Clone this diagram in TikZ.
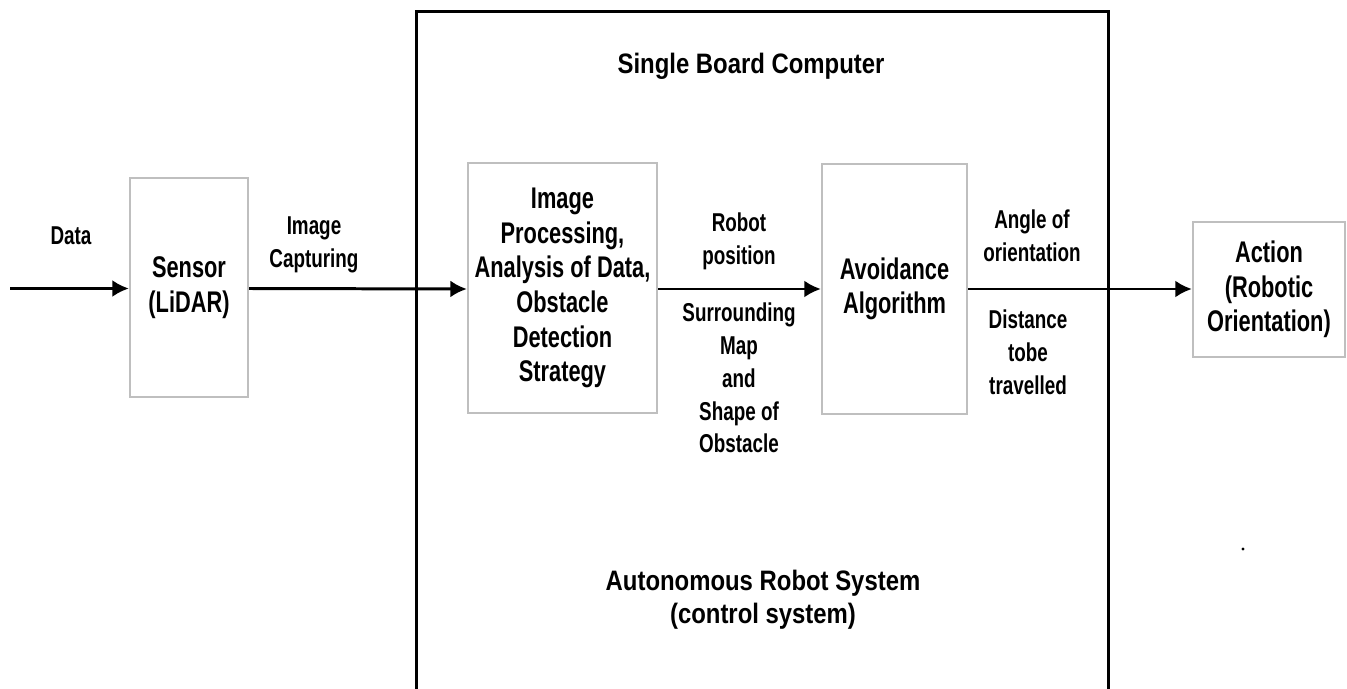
\documentclass[tikz,border=0pt]{standalone}
\usepackage{fontspec}
\setmainfont{Liberation Sans}
\newfontfamily\boxfont{Liberation Sans}[FakeStretch=0.73]
\newfontfamily\headfont{Liberation Sans}[FakeStretch=0.85]
\usetikzlibrary{arrows.meta}

\begin{document}
\begin{tikzpicture}[x=0.02cm,y=-0.02cm,>={Latex[length=3.3mm,width=3.4mm]},
  font=\boxfont\fontsize{17}{19.7}\selectfont\bfseries,
  blk/.style={draw=gray!50,line width=1.3pt,align=center,inner sep=0pt},
  txt/.style={align=center,inner sep=0pt,font=\boxfont\fontsize{14.7}{18.7}\selectfont\bfseries},
  head/.style={align=center,inner sep=0pt,font=\headfont\fontsize{16}{18.7}\selectfont\bfseries},
  flow/.style={->,line width=1.7pt}]
\useasboundingbox (0,0) rectangle (1347,689);
% single board computer frame
\draw[line width=1.7pt] (416.5,689) -- (416.5,11.5) -- (1108,11.5) -- (1108,689);
\node[head] (sbc) at (751,66.5) {Single Board Computer};
\node[head] (ars) at (763,600) {Autonomous Robot System\\(control system)};
% blocks
\node[blk,minimum width=118*0.02cm,minimum height=219*0.02cm] (sensor) at (189,287.5) {Sensor\\(LiDAR)};
\node[blk,minimum width=189*0.02cm,minimum height=250*0.02cm] (proc) at (562.5,288) {Image\\Processing,\\Analysis of Data,\\Obstacle\\Detection\\Strategy};
\node[blk,minimum width=145*0.02cm,minimum height=250*0.02cm] (avoid) at (894.5,289) {Avoidance\\Algorithm};
\node[blk,minimum width=152*0.02cm,minimum height=135*0.02cm] (action) at (1269,289.5) {Action\\(Robotic\\Orientation)};
% connectors
\coordinate (in) at (10,288.5);
\draw[flow] (in) -- (in -| sensor.west);
\draw[flow] (sensor.east |- in) -- (proc.west |- 0,289);
\draw[flow] (proc.east |- 0,289) -- (avoid.west |- 0,289);
\draw[flow] (avoid.east |- 0,289) -- (action.west |- 0,289);
% labels
\node[txt] (ldata) at (71,236) {Data};
\node[txt] (limg) at (314,245) {Image\\Capturing};
\node[txt] (lpos) at (739,241) {Robot\\position};
\node[txt] (lmap) at (739,378) {Surrounding\\Map\\and\\Shape of\\Obstacle};
\node[txt] (lang) at (1032,236) {Angle of\\orientation};
\node[txt] (ldist) at (1028,352) {Distance\\tobe\\travelled};
\fill (1243,549) circle (1.6);
\end{tikzpicture}
\end{document}
